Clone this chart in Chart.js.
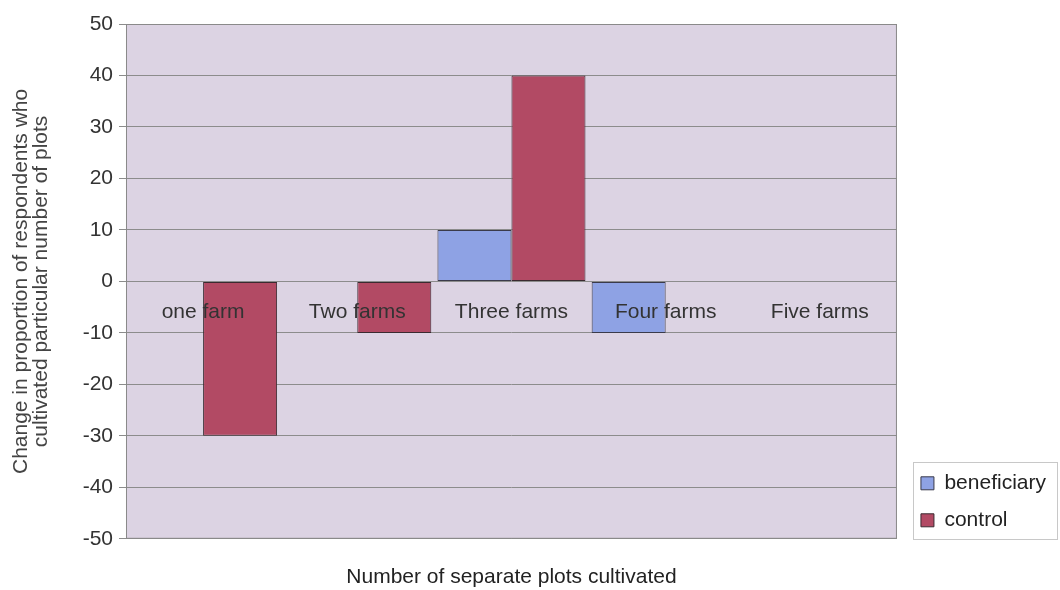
<!DOCTYPE html>
<html>
<head>
<meta charset="utf-8">
<script src="https://cdn.jsdelivr.net/npm/chart.js@4"></script>
<style>
  html, body { margin: 0; padding: 0; background: #ffffff; }
  #wrap { width: 1060px; height: 590px; }
</style>
</head>
<body>
<div id="wrap"><canvas id="farmChart"></canvas></div>
<script>
const categories = ['one farm', 'Two farms', 'Three farms', 'Four farms', 'Five farms'];
const beneficiary = [0, 0, 10, -10, 0];
const control = [-30, -10, 40, 0, 0];
const yTicks = [-50, -40, -30, -20, -10, 0, 10, 20, 30, 40, 50];

// plot area fill + border, and the box round the legend
const plotBox = {
  id: 'plotBox',
  afterLayout(chart) {
    // legend sits a little lower than chart.js puts it
    if (chart.legend) {
      chart.legend.top += 8;
      chart.legend.bottom += 8;
    }
  },
  beforeDraw(chart) {
    const { ctx, chartArea: a } = chart;
    ctx.save();
    ctx.fillStyle = '#dcd3e3';
    ctx.fillRect(a.left, a.top, a.right - a.left, a.bottom - a.top);
    ctx.restore();
  },
  afterDraw(chart) {
    const { ctx, chartArea: a, legend } = chart;
    ctx.save();
    ctx.strokeStyle = '#8a8a8a';
    ctx.lineWidth = 1;
    ctx.strokeRect(a.left + 0.5, a.top + 0.5, a.right - a.left - 1, a.bottom - a.top - 1);
    if (legend && legend.legendHitBoxes.length) {
      const boxes = legend.legendHitBoxes;
      const first = boxes[0];
      const last = boxes[boxes.length - 1];
      const top = first.top - 11;
      const bottom = last.top + last.height + 8;
      ctx.strokeStyle = '#c8c8c8';
      ctx.strokeRect(Math.round(first.left) - 7.5, Math.round(top) + 0.5, 144, Math.round(bottom - top));
    }
    ctx.restore();
  }
};

new Chart(document.getElementById('farmChart'), {
  type: 'bar',
  data: {
    labels: categories,
    datasets: [
      {
        label: 'beneficiary',
        data: beneficiary,
        backgroundColor: '#8ea2e4',
        borderColor: '#3a3a4a',
        borderWidth: 1,
        borderSkipped: false
      },
      {
        label: 'control',
        data: control,
        backgroundColor: '#b24a64',
        borderColor: '#3a2a30',
        borderWidth: 1,
        borderSkipped: false
      }
    ]
  },
  plugins: [plotBox],
  options: {
    responsive: true,
    maintainAspectRatio: false,
    animation: false,
    layout: { padding: { left: 12, right: 4, top: 24, bottom: 0 } },
    datasets: { bar: { categoryPercentage: 0.96, barPercentage: 1.0 } },
    scales: {
      x: {
        position: { y: 0 },
        grid: { display: false },
        border: { display: false },
        ticks: {
          z: 1,
          color: '#333333',
          padding: 10,
          font: { family: 'Liberation Sans, Arial', size: 21 }
        }
      },
      y: {
        min: -50,
        max: 50,
        afterBuildTicks(scale) {
          scale.ticks = yTicks.map(v => ({ value: v }));
        },
        grid: { color: '#8c8c8c', tickLength: 7 },
        border: { display: false },
        ticks: {
          color: '#333333',
          padding: 6,
          font: { family: 'Liberation Sans, Arial', size: 21 }
        },
        title: {
          display: true,
          text: ['Change in proportion of respondents who', 'cultivated particular number of plots'],
          color: '#444444',
          padding: { top: 0, bottom: 26 },
          font: { family: 'Liberation Sans, Arial', size: 21, lineHeight: 0.92 }
        }
      },
      // empty right-hand axis: only keeps a gap between the plot and the legend
      gap: {
        type: 'linear',
        position: 'right',
        display: true,
        grid: { display: false },
        border: { display: false },
        ticks: { display: false },
        afterFit(scale) {
          scale.width = 8;
        }
      }
    },
    plugins: {
      legend: {
        position: 'right',
        align: 'end',
        fullSize: false,
        labels: {
          color: '#222222',
          boxWidth: 13,
          boxHeight: 13,
          padding: 16,
          font: { family: 'Liberation Sans, Arial', size: 21 }
        }
      },
      title: {
        display: true,
        position: 'bottom',
        fullSize: false,
        text: 'Number of separate plots cultivated',
        color: '#222222',
        padding: { top: 26, bottom: 0 },
        font: { family: 'Liberation Sans, Arial', size: 21, weight: 'normal' }
      },
      tooltip: { enabled: false }
    }
  }
});
</script>
</body>
</html>
